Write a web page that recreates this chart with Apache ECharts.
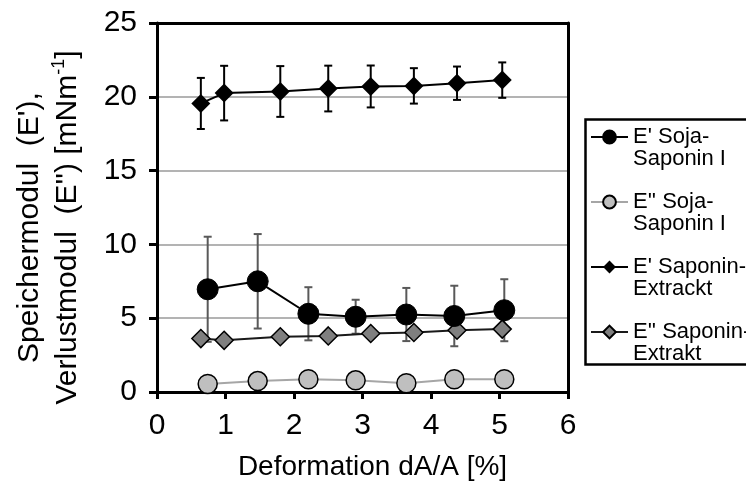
<!DOCTYPE html>
<html>
<head>
<meta charset="utf-8">
<script src="https://cdn.jsdelivr.net/npm/echarts@6/dist/echarts.min.js"></script>
<style>
html,body{margin:0;padding:0;background:#fff;}
#chart{width:746px;height:481px;}
</style>
</head>
<body>
<div id="chart"></div>
<script>
// ---- data ----
var seriesNames = ["E' Soja-\nSaponin I", "E'' Soja-\nSaponin I", "E' Saponin-\nExtrackt", "E'' Saponin-\nExtrakt"];
var xSoja = [0.74, 1.47, 2.21, 2.90, 3.64, 4.34, 5.07];
var eSojaPrime = [6.96, 7.5, 5.3, 5.1, 5.25, 5.15, 5.54];
var eSojaPrimeErr = [3.56, 3.2, 1.8, 1.15, 1.8, 2.05, 2.1];
var eSojaDouble = [0.54, 0.74, 0.86, 0.79, 0.59, 0.86, 0.86];
var xExtrakt = [0.64, 0.98, 1.80, 2.50, 3.12, 3.75, 4.38, 5.04];
var eExtraktPrime = [19.55, 20.25, 20.36, 20.56, 20.7, 20.74, 20.92, 21.13];
var eExtraktPrimeErr = [1.73, 1.85, 1.72, 1.55, 1.42, 1.2, 1.13, 1.2];
var eExtraktDouble = [3.62, 3.5, 3.74, 3.8, 3.96, 4.03, 4.19, 4.26];
var xTicks = [0, 1, 2, 3, 4, 5, 6];
var yTicks = [0, 5, 10, 15, 20, 25];
var xTitle = "Deformation dA/A [%]";
var yTitleLine1 = "Speichermodul  (E'),";
var yTitleLine2 = "Verlustmodul  (E'') [mNm";
var yTitleSup = "-1";

function zip(xs, ys) { return xs.map(function (x, i) { return [x, ys[i]]; }); }
function errData(xs, ys, es) { return xs.map(function (x, i) { return [x, ys[i] - es[i], ys[i] + es[i]]; }); }

function errorBar(color) {
  return function (params, api) {
    var x = api.value(0);
    var lo = api.coord([x, api.value(1)]);
    var hi = api.coord([x, api.value(2)]);
    var w = 4;
    var st = { stroke: color, lineWidth: 2 };
    return {
      type: 'group',
      children: [
        { type: 'line', shape: { x1: lo[0], y1: lo[1], x2: hi[0], y2: hi[1] }, style: st },
        { type: 'line', shape: { x1: lo[0] - w, y1: lo[1], x2: lo[0] + w, y2: lo[1] }, style: st },
        { type: 'line', shape: { x1: hi[0] - w, y1: hi[1], x2: hi[0] + w, y2: hi[1] }, style: st }
      ]
    };
  };
}

var FONT = "Arial, 'Liberation Sans', sans-serif";
var chart = echarts.init(document.getElementById('chart'), null, { renderer: 'canvas' });
var option = {
  animation: false,
  backgroundColor: '#fff',
  textStyle: { fontFamily: FONT, color: '#000' },
  grid: { left: 157, top: 23, right: 178, bottom: 89, show: false, containLabel: false, outerBoundsMode: 'none' },
  xAxis: [{
    type: 'value', min: xTicks[0], max: xTicks[xTicks.length - 1], interval: 1,
    axisLine: { show: true, lineStyle: { color: '#000', width: 3 } },
    axisTick: { show: true, inside: false, length: 7, lineStyle: { color: '#000', width: 3 } },
    axisLabel: { fontSize: 30, color: '#000', margin: 19, fontFamily: FONT },
    splitLine: { show: false },
    name: xTitle, nameLocation: 'middle', nameGap: 61,
    nameTextStyle: { fontSize: 28, color: '#000', fontFamily: FONT, padding: [0, 0, 0, 20] }
  }, {
    type: 'value', position: 'top', min: 0, max: 6, z: 10,
    axisLine: { show: true, onZero: false, lineStyle: { color: '#000', width: 3 } },
    axisTick: { show: false }, axisLabel: { show: false }, splitLine: { show: false }
  }],
  yAxis: [{
    type: 'value', min: yTicks[0], max: yTicks[yTicks.length - 1], interval: 5,
    axisLine: { show: true, lineStyle: { color: '#000', width: 3 } },
    axisTick: { show: true, inside: false, length: 8, lineStyle: { color: '#000', width: 3 } },
    axisLabel: { fontSize: 30, color: '#000', margin: 20, fontFamily: FONT },
    splitLine: { show: true, lineStyle: { color: '#9a9a9a', width: 1.5 } },
    name: '{a|' + yTitleLine1 + '}\n{a|' + yTitleLine2 + '}{s|' + yTitleSup + '}{a|]}',
    nameLocation: 'middle', nameRotate: 90, nameGap: 70,
    nameTextStyle: {
      fontFamily: FONT, color: '#000', fontSize: 30, lineHeight: 38, padding: [0, 40, 0, 0],
      rich: {
        a: { fontSize: 30, lineHeight: 38, fontFamily: FONT, color: '#000' },
        s: { fontSize: 18, lineHeight: 18, fontFamily: FONT, color: '#000', padding: [0, 0, 17, 0] }
      }
    }
  }, {
    type: 'value', position: 'right', min: 0, max: 25, z: 10,
    axisLine: { show: true, onZero: false, lineStyle: { color: '#000', width: 3 } },
    axisTick: { show: false }, axisLabel: { show: false }, splitLine: { show: false }
  }],
  legend: {
    orient: 'vertical', left: 590, top: 104, padding: 0,
    itemWidth: 37, itemHeight: 16, itemGap: -1, selectedMode: false,
    data: seriesNames,
    formatter: function (name) { return ' \n' + name; },
    textStyle: { fontFamily: FONT, fontSize: 22, color: '#000', lineHeight: 22 }
  },
  graphic: [{
    type: 'rect', left: 583, top: 117, z: 100,
    shape: { width: 200, height: 245 },
    style: { fill: 'none', stroke: '#000', lineWidth: 2.5 }
  }],
  series: [
    { type: 'custom', name: 'errSoja', renderItem: errorBar('#595959'), data: errData(xSoja, eSojaPrime, eSojaPrimeErr), z: 1, encode: { x: 0, y: [1, 2] } },
    { type: 'custom', name: 'errExtrakt', renderItem: errorBar('#000'), data: errData(xExtrakt, eExtraktPrime, eExtraktPrimeErr), z: 1, encode: { x: 0, y: [1, 2] } },
    {
      type: 'line', name: seriesNames[3], data: zip(xExtrakt, eExtraktDouble), z: 3,
      symbol: 'diamond', symbolSize: 18,
      itemStyle: { color: '#7f7f7f', borderColor: '#000', borderWidth: 1.5 },
      lineStyle: { color: '#1a1a1a', width: 2 }
    },
    {
      type: 'line', name: seriesNames[0], data: zip(xSoja, eSojaPrime), z: 4,
      symbol: 'circle', symbolSize: 21,
      itemStyle: { color: '#000', borderColor: '#000', borderWidth: 1 },
      lineStyle: { color: '#000', width: 2 }
    },
    {
      type: 'line', name: seriesNames[1], data: zip(xSoja, eSojaDouble), z: 4,
      symbol: 'circle', symbolSize: 19,
      itemStyle: { color: '#bfbfbf', borderColor: '#000', borderWidth: 1.5 },
      lineStyle: { color: '#a6a6a6', width: 2 }
    },
    {
      type: 'line', name: seriesNames[2], data: zip(xExtrakt, eExtraktPrime), z: 4,
      symbol: 'diamond', symbolSize: 19,
      itemStyle: { color: '#000' },
      lineStyle: { color: '#000', width: 2 }
    }
  ]
};
chart.setOption(option);
</script>
</body>
</html>
